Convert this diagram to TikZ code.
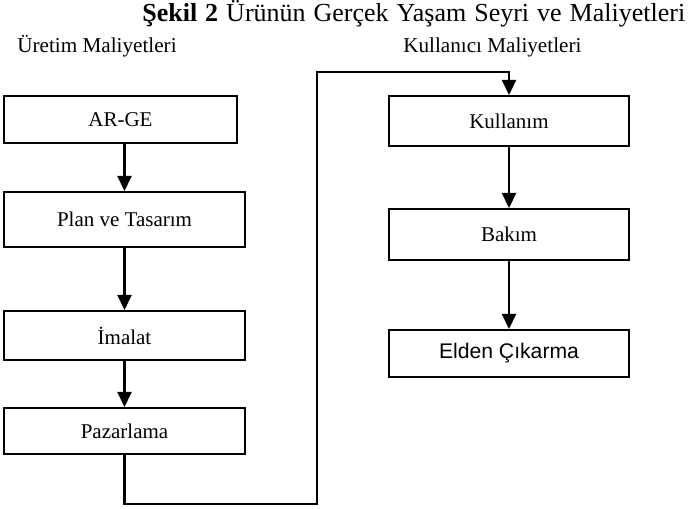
\documentclass[tikz,border=0pt]{standalone}
\usepackage{fontspec}
\setmainfont{Liberation Serif}
\newfontfamily\arialfont{Liberation Sans}
\usetikzlibrary{arrows.meta}
\definecolor{darkline}{HTML}{000000}
\tikzset{
  box/.style={rectangle, draw=darkline, line width=1.3pt, align=center, inner sep=0pt, font=\fontsize{12.6}{14}\selectfont},
  stage/.style={box, minimum width=241*0.6pt, minimum height=50*0.6pt},
  header/.style={font=\fontsize{12.7}{14}\selectfont, inner sep=0pt},
  flow/.style={-{Triangle[length=9pt, width=8.5pt]}, line width=1.3pt, draw=darkline}
}

\begin{document}
\begin{tikzpicture}[x=0.6pt, y=-0.6pt]

\useasboundingbox (0,0) rectangle (691,509);

\node[font=\fontsize{15.6}{17}\selectfont, anchor=base west, inner sep=0pt] (title) at (142, 22) {\spaceskip=4.8pt\relax\textbf{Şekil 2} Ürünün Gerçek Yaşam Seyri ve Maliyetleri};
\node[header, anchor=base west] (uretim) at (17, 53) {Üretim Maliyetleri};
\node[header, anchor=base west] (kullanici) at (403, 53) {Kullanıcı Maliyetleri};

\node[stage, minimum width=233*0.6pt, minimum height=47*0.6pt] (arge) at (120.5, 119.5) {AR-GE};
\node[stage, minimum height=55*0.6pt] (plan) at (124.5, 219.5) {Plan ve Tasarım};
\node[stage, minimum height=49*0.6pt] (imalat) at (124.5, 335.5) {İmalat};
\node[stage, minimum height=46*0.6pt] (pazar) at (124.5, 431) {Pazarlama};

\node[stage, minimum width=240*0.6pt] (kullanim) at (509, 121) {Kullanım};
\node[stage, minimum width=240*0.6pt, minimum height=51*0.6pt] (bakim) at (509, 234.5) {Bakım};
\node[stage, minimum width=240*0.6pt, minimum height=47*0.6pt, font=\arialfont\fontsize{12.7}{14}\selectfont] (elden) at (509, 353.5) {Elden Çıkarma};

\coordinate (loopbot) at (317, 504);
\coordinate (looptop) at (317, 72);

\draw[flow] (arge.south -| plan.north) -- (plan.north);
\draw[flow] (plan) -- (imalat);
\draw[flow] (imalat) -- (pazar);
\draw[flow] (pazar.south) |- (loopbot) -- (looptop) -| (kullanim.north);
\draw[flow] (kullanim) -- (bakim);
\draw[flow] (bakim) -- (elden);

\end{tikzpicture}
\end{document}
